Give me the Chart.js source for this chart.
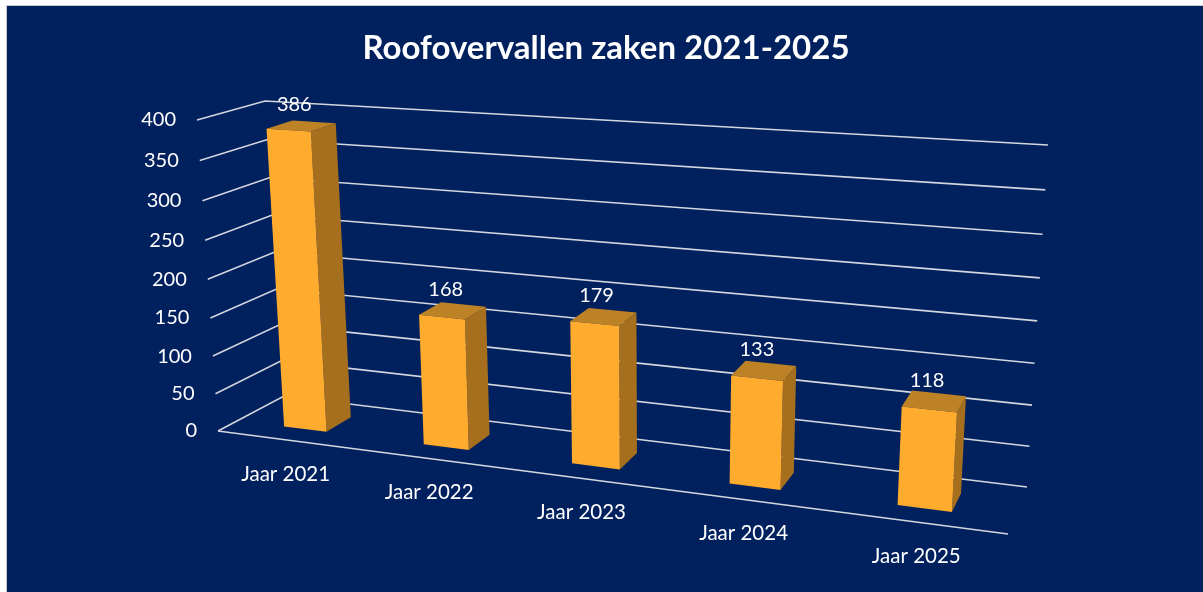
<!DOCTYPE html>
<html><head><meta charset="utf-8">
<style>html,body{margin:0;padding:0;background:#fff;overflow:hidden}#w{width:1203px;height:592px}canvas{display:block;filter:blur(0.45px)}</style>
<script src="https://cdn.jsdelivr.net/npm/chart.js@4"></script>
</head><body><div id="w"><canvas id="c" width="1203" height="592"></canvas></div>
<script>
const categories = ['Jaar 2021','Jaar 2022','Jaar 2023','Jaar 2024','Jaar 2025'];
const seriesName = 'Roofovervallen zaken';
const values = [386,168,179,133,118];
const yTicks = [0,50,100,150,200,250,300,350,400];
const chartTitle = 'Roofovervallen zaken 2021-2025';

// Perspective frame of the 3D plot: wall corners bl, br, tr, tl
const frontPlane = [[218,431],[1008,534],[1030,174],[197,120]];
const backPlane  = [[284,396],[1027,487],[1048,145],[265,101]];
const barDepth = [0.30,0.70];

function homography(q){
  const [[x0,y0],[x1,y1],[x2,y2],[x3,y3]] = q;
  const dx1=x1-x2,dx2=x3-x2,sx=x0-x1+x2-x3,dy1=y1-y2,dy2=y3-y2,sy=y0-y1+y2-y3;
  const den=dx1*dy2-dx2*dy1, g=(sx*dy2-dx2*sy)/den, h=(dx1*sy-sx*dy1)/den;
  const a=x1-x0+g*x1,b=x3-x0+h*x3,d=y1-y0+g*y1,e=y3-y0+h*y3;
  return (u,v)=>{const w=g*u+h*v+1;return [(a*u+b*v+x0)/w,(d*u+e*v+y0)/w];};
}
const hf=homography(frontPlane), hb=homography(backPlane);
function project(u,v,z){const f=hf(u,v),b=hb(u,v);return [f[0]+(b[0]-f[0])*z,f[1]+(b[1]-f[1])*z];}
function poly(ctx,pts,fill){ctx.beginPath();pts.forEach((p,i)=>i?ctx.lineTo(p[0],p[1]):ctx.moveTo(p[0],p[1]));ctx.closePath();ctx.fillStyle=fill;ctx.fill();}

const font = s => s+'px Lato, Carlito, sans-serif';
const perspective3D = {
  id:'perspective3D',
  beforeDraw(chart){
    const c=chart.ctx;c.save();c.fillStyle='#ffffff';c.fillRect(0,0,chart.width,chart.height);
    c.fillStyle='#c8c8c8';c.fillRect(6,5,chart.width-6,1);c.fillRect(6,5,1,chart.height-5);
    c.fillStyle='#00205e';c.fillRect(7,6,chart.width-7,chart.height-6);c.restore();
  },
  beforeDatasetsDraw(chart){
    const c=chart.ctx,a=chart.chartArea,ys=chart.scales.y,xs=chart.scales.x;
    const vOf=val=>(a.bottom-ys.getPixelForValue(val))/a.height;
    c.save();c.strokeStyle='#d4d7de';c.lineWidth=1.6;
    yTicks.forEach(t=>{
      const v=vOf(t),p0=project(0,v,0),p1=project(0,v,1),p2=project(1,v,1);
      c.beginPath();c.moveTo(p0[0],p0[1]);c.lineTo(p1[0],p1[1]);c.lineTo(p2[0],p2[1]);c.stroke();
      c.fillStyle='#ffffff';c.font=font(20);c.textAlign='right';c.textBaseline='middle';
      c.fillText(String(t),p0[0]-21,p0[1]);
    });
    const f0=project(0,0,0),f1=project(1,0,0);
    c.beginPath();c.moveTo(f0[0],f0[1]);c.lineTo(f1[0],f1[1]);c.stroke();
    c.fillStyle='#ffffff';c.font=font(20.5);c.textAlign='center';c.textBaseline='middle';
    categories.forEach((lab,i)=>{
      const u=(xs.getPixelForValue(i)-a.left)/a.width,p=project(u,0,0);
      c.fillText(lab,p[0]-1,p[1]+34);
    });
    c.restore();
  },
  beforeDatasetDraw(chart,args){
    const c=chart.ctx,a=chart.chartArea,ds=chart.data.datasets[args.index];
    const meta=chart.getDatasetMeta(args.index);
    const [z0,z1]=barDepth;
    c.save();
    meta.data.forEach((el,i)=>{
      const ul=(el.x-el.width/2-a.left)/a.width,ur=(el.x+el.width/2-a.left)/a.width;
      const vt=(a.bottom-el.y)/a.height,vb=(a.bottom-el.base)/a.height;
      const P=(u,v,z)=>project(u,v,z);
      poly(c,[P(ur,vb,z0),P(ur,vb,z1),P(ur,vt,z1),P(ur,vt,z0)],ds.sideColor);
      poly(c,[P(ul,vt,z0),P(ur,vt,z0),P(ur,vt,z1),P(ul,vt,z1)],ds.topColor);
      poly(c,[P(ul,vb,z0),P(ur,vb,z0),P(ur,vt,z0),P(ul,vt,z0)],ds.backgroundColor);
    });
    meta.data.forEach((el,i)=>{
      const um=(el.x-a.left)/a.width,vt=(a.bottom-el.y)/a.height,p=project(um,vt,(barDepth[0]+barDepth[1])/2);
      c.fillStyle='#ffffff';c.font=font(20);c.textAlign='center';c.textBaseline='middle';
      c.fillText(String(values[i]),p[0]-7,p[1]-21);
    });
    c.restore();
    return false;
  }
};

new Chart(document.getElementById('c'),{
  type:'bar',
  data:{labels:categories,datasets:[{label:seriesName,data:values,backgroundColor:'#ffab2d',sideColor:'#a56f1d',topColor:'#bd8225',barPercentage:0.31,categoryPercentage:1}]},
  options:{
    responsive:false,animation:false,
    layout:{padding:{left:9,top:0,right:0,bottom:0}},
    scales:{x:{display:false},y:{display:false,min:0,max:400,ticks:{stepSize:50}}},
    plugins:{legend:{display:false},tooltip:{enabled:false},
      title:{display:true,text:chartTitle,color:'#ffffff',font:{family:'Lato, Carlito, sans-serif',size:33,weight:'bold'},padding:{top:29,bottom:8}}}
  },
  plugins:[perspective3D]
});
</script></body></html>
